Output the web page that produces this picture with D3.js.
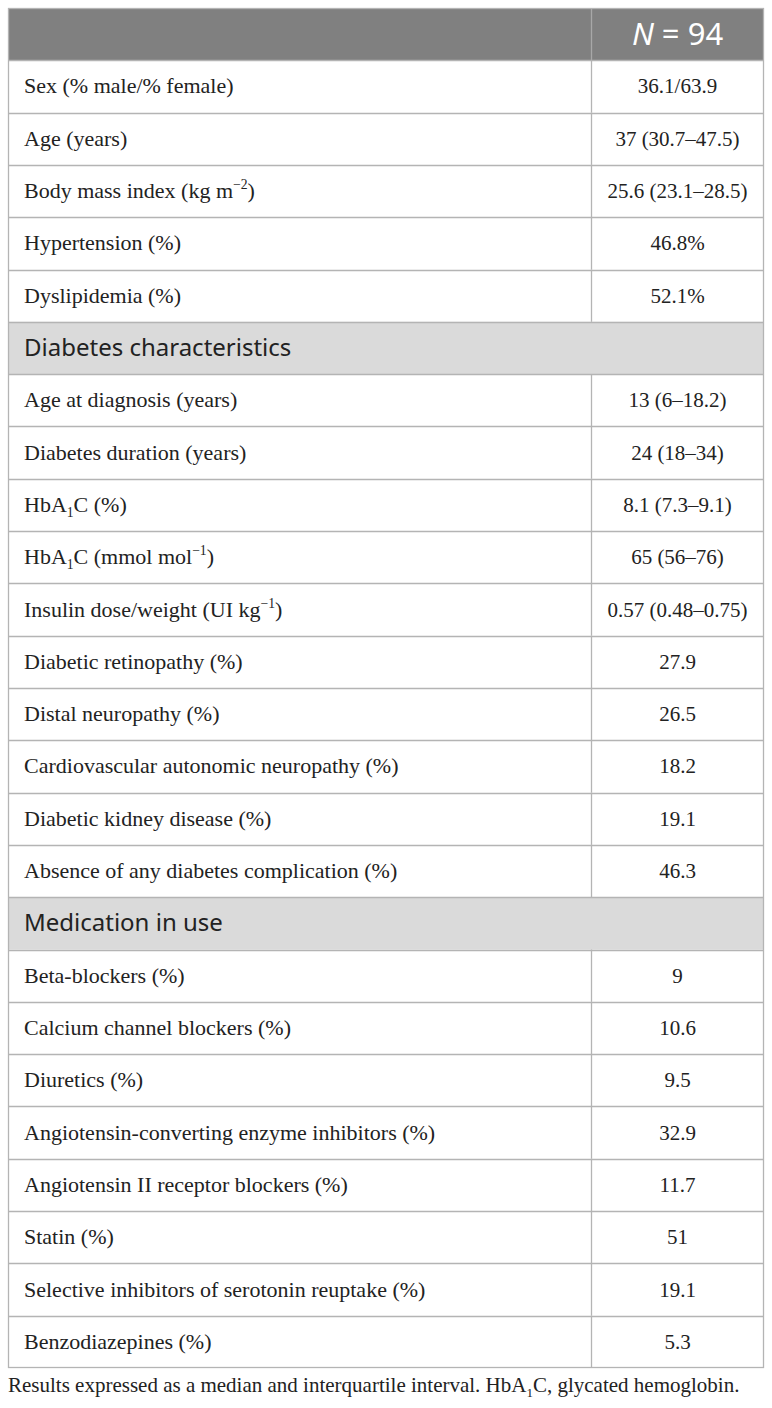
<!DOCTYPE html>
<html>
<head>
<meta charset="utf-8">
<script src="https://cdn.jsdelivr.net/npm/d3@7"></script>
<style>
  body { margin: 0; background: #fff; }
</style>
</head>
<body>
<div id="chart"></div>
<script>
// table content
const headerLabel = 'N = 94'

const generalLabels = [
    'Sex (% male/% female)',
    'Age (years)',
    'Body mass index (kg m^{−2})',
    'Hypertension (%)',
    'Dyslipidemia (%)'
]
const generalValues = ['36.1/63.9', '37 (30.7–47.5)', '25.6 (23.1–28.5)', '46.8%', '52.1%']

const diabetesTitle = 'Diabetes characteristics'
const diabetesLabels = [
    'Age at diagnosis (years)',
    'Diabetes duration (years)',
    'HbA_{1}C (%)',
    'HbA_{1}C (mmol mol^{−1})',
    'Insulin dose/weight (UI kg^{−1})',
    'Diabetic retinopathy (%)',
    'Distal neuropathy (%)',
    'Cardiovascular autonomic neuropathy (%)',
    'Diabetic kidney disease (%)',
    'Absence of any diabetes complication (%)'
]
const diabetesValues = ['13 (6–18.2)', '24 (18–34)', '8.1 (7.3–9.1)', '65 (56–76)', '0.57 (0.48–0.75)',
    '27.9', '26.5', '18.2', '19.1', '46.3']

const medicationTitle = 'Medication in use'
const medicationLabels = [
    'Beta-blockers (%)',
    'Calcium channel blockers (%)',
    'Diuretics (%)',
    'Angiotensin-converting enzyme inhibitors (%)',
    'Angiotensin II receptor blockers (%)',
    'Statin (%)',
    'Selective inhibitors of serotonin reuptake (%)',
    'Benzodiazepines (%)'
]
const medicationValues = ['9', '10.6', '9.5', '32.9', '11.7', '51', '19.1', '5.3']

const footnote = 'Results expressed as a median and interquartile interval. HbA_{1}C, glycated hemoglobin.'

// build the row list
let rows = [{type: 'header', label: '', value: headerLabel}]
generalLabels.forEach((l, i) => rows.push({type: 'row', label: l, value: generalValues[i]}))
rows.push({type: 'section', label: diabetesTitle})
diabetesLabels.forEach((l, i) => rows.push({type: 'row', label: l, value: diabetesValues[i]}))
rows.push({type: 'section', label: medicationTitle})
medicationLabels.forEach((l, i) => rows.push({type: 'row', label: l, value: medicationValues[i]}))

const width = 772, height = 1408
const tableLeft = 8, tableRight = 764, tableTop = 8, tableBottom = 1368
const splitX = 591

let svg = d3.select('#chart').append('svg')
    .attr('width', width)
    .attr('height', height)

let yScale = d3.scaleBand()
    .domain(d3.range(rows.length))
    .range([tableTop, tableBottom])
    .padding(0)

const lineColor = '#b4b4b4'
const serif = '"Liberation Serif", "Times New Roman", serif'
const sans = '"Noto Sans", "Open Sans", sans-serif'
const labelSize = 22
const valueSize = 21

// write text with _{sub} and ^{sup} pieces as tspans,
// the shift back to the baseline goes on the following piece
function richText(sel, str, size){
    let parts = str.split(/(_\{[^}]*\}|\^\{[^}]*\})/).filter(p => p.length)
    let back = 0
    parts.forEach(p => {
        if (p.startsWith('_{') || p.startsWith('^{')) {
            let shift = p[0] === '_' ? size * 0.22 : -size * 0.4
            sel.append('tspan').text(p.slice(2, -1))
                .attr('font-size', size * 0.62).attr('dy', shift + back)
            back = -shift
        } else {
            let t = sel.append('tspan').text(p)
            if (back) t.attr('dy', back)
            back = 0
        }
    })
}

// cell backgrounds first, rules on top
svg.append('g').selectAll('rect')
    .data(rows)
    .join('rect')
    .attr('x', tableLeft)
    .attr('y', (d, i) => yScale(i))
    .attr('width', tableRight - tableLeft)
    .attr('height', yScale.bandwidth() + 0.5)
    .attr('fill', d => d.type === 'header' ? '#808080' : d.type === 'section' ? '#dadada' : '#fff')

let rules = svg.append('g')
rules.selectAll('line.h')
    .data(rows.slice(1))
    .join('line')
    .classed('h', true)
    .attr('x1', tableLeft).attr('x2', tableRight)
    .attr('y1', (d, i) => Math.round(yScale(i + 1)) + 0.5)
    .attr('y2', (d, i) => Math.round(yScale(i + 1)) + 0.5)
    .attr('stroke', lineColor)
    .attr('stroke-width', 1.3)

rules.selectAll('line.v')
    .data(rows.map((d, i) => ({type: d.type, i: i})).filter(d => d.type !== 'section'))
    .join('line')
    .classed('v', true)
    .attr('x1', splitX + 0.5).attr('x2', splitX + 0.5)
    .attr('y1', d => yScale(d.i)).attr('y2', d => yScale(d.i) + yScale.bandwidth())
    .attr('stroke', d => d.type === 'header' ? '#a8a8a8' : lineColor)
    .attr('stroke-width', 1.3)

let rowG = svg.selectAll('g.row')
    .data(rows)
    .join('g')
    .classed('row', true)
    .attr('transform', (d, i) => 'translate(0,' + yScale(i) + ')')

// labels
rowG.filter(d => d.type === 'row').append('text')
    .attr('x', 24)
    .attr('y', yScale.bandwidth() / 2 + 7)
    .attr('font-family', serif)
    .attr('font-size', labelSize)
    .attr('fill', '#222')
    .each(function(d){ richText(d3.select(this), d.label, labelSize) })

rowG.filter(d => d.type === 'row').append('text')
    .attr('x', (splitX + tableRight) / 2)
    .attr('y', yScale.bandwidth() / 2 + 7)
    .attr('text-anchor', 'middle')
    .attr('font-family', serif)
    .attr('font-size', valueSize)
    .attr('fill', '#222')
    .text(d => d.value)

rowG.filter(d => d.type === 'section').append('text')
    .attr('x', 24)
    .attr('y', yScale.bandwidth() / 2 + 8)
    .attr('font-family', sans)
    .attr('font-size', 24)
    .attr('fill', '#222')
    .text(d => d.label)

let head = rowG.filter(d => d.type === 'header').append('text')
    .attr('x', (splitX + tableRight) / 2)
    .attr('y', yScale.bandwidth() / 2 + 11)
    .attr('text-anchor', 'middle')
    .attr('font-family', sans)
    .attr('font-size', 31)
    .attr('fill', '#fff')
head.append('tspan').attr('font-style', 'italic').text(headerLabel.split(' ')[0])
head.append('tspan').text(' ' + headerLabel.split(' ').slice(1).join(' '))

// outer frame
svg.append('rect')
    .attr('x', tableLeft + 0.5).attr('y', tableTop + 0.5)
    .attr('width', tableRight - tableLeft - 1).attr('height', tableBottom - tableTop - 1)
    .attr('fill', 'none')
    .attr('stroke', lineColor)
    .attr('stroke-width', 1.3)

let foot = svg.append('text')
    .attr('x', tableLeft)
    .attr('y', 1392)
    .attr('font-family', serif)
    .attr('font-size', 21)
    .attr('fill', '#222')
richText(foot, footnote, 21)
</script>
</body>
</html>
